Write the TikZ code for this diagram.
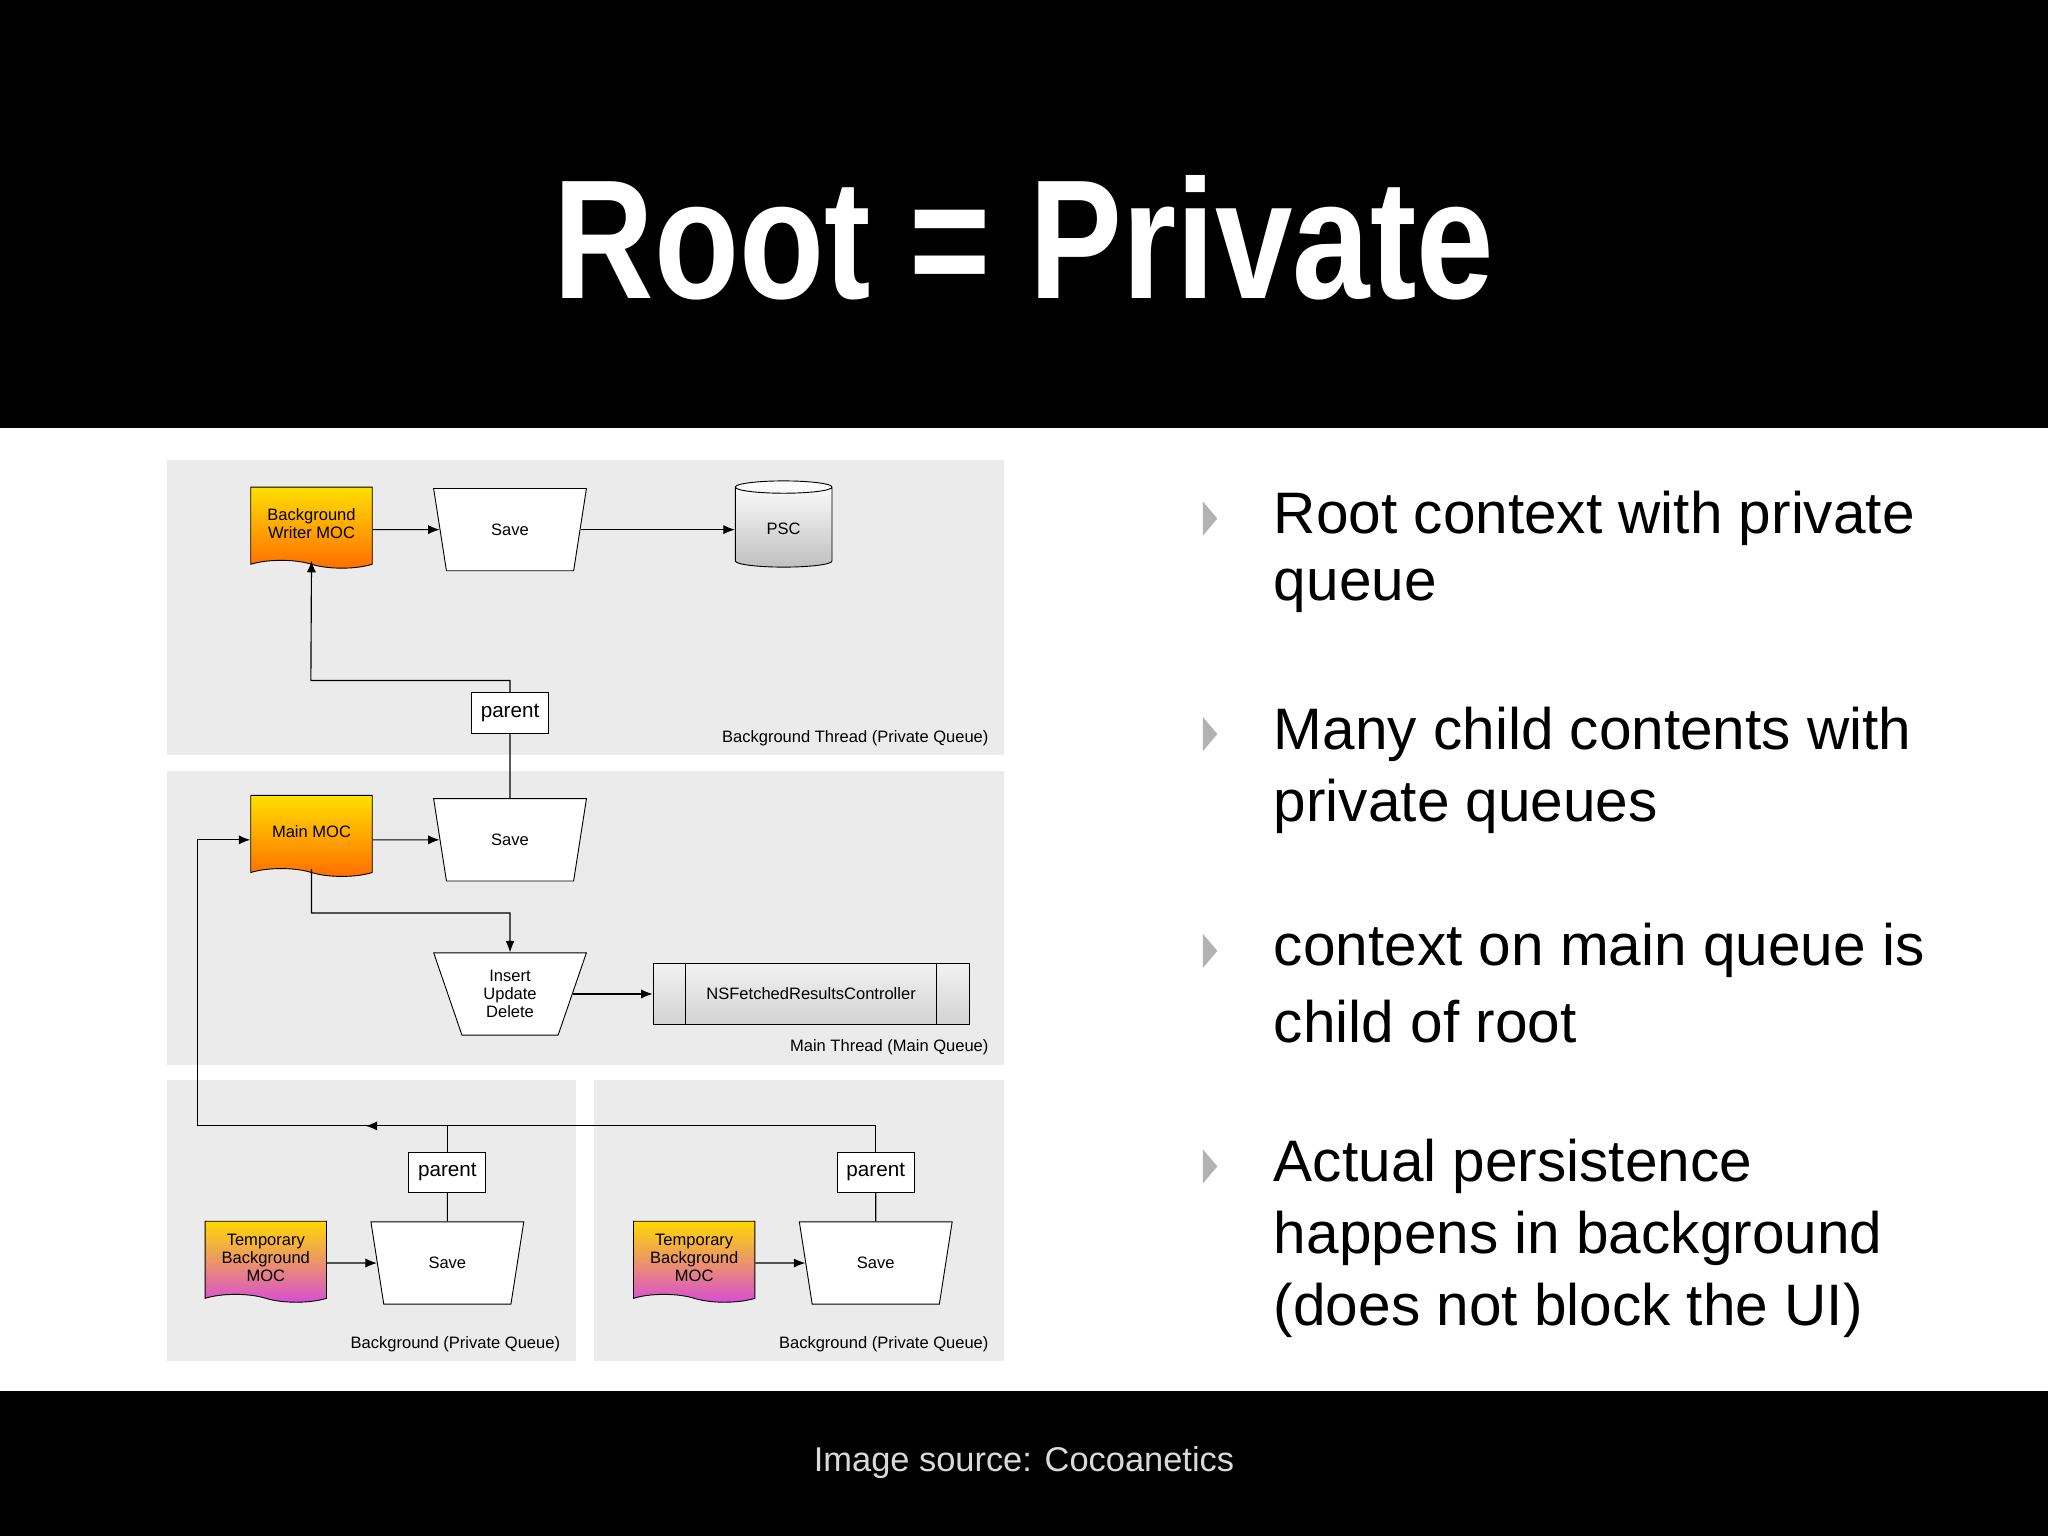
\documentclass[tikz,border=0pt]{standalone}
\usepackage{fontspec}
\setmainfont{Liberation Sans}
\usetikzlibrary{shapes.geometric,shapes.symbols,arrows.meta}
\def\upx{0.02cm}
\definecolor{panel}{HTML}{EBEBEB}
\begin{document}
\begin{tikzpicture}[x=0.02cm,y=-0.02cm,
  sm/.style={font=\fontsize{7.2}{8}\selectfont},
  doc/.style={tape,tape bend top=none,tape bend bottom=out and in,tape bend height=6*\upx,draw=black,line width=0.4pt,minimum width=93*\upx,minimum height=62*\upx,align=center,sm,inner sep=1pt},
  orange/.style={doc,top color=yellow!75!orange,bottom color=orange!85!red},
  purple/.style={doc,top color=yellow!70!orange,bottom color=magenta!55!violet!70},
  trap/.style={trapezium,shape border rotate=180,trapezium angle=72,trapezium stretches=true,draw=black,fill=white,minimum width=117*\upx,minimum height=63*\upx,sm,align=center,inner sep=0pt},
  pbox/.style={draw=black,fill=white,minimum width=59*\upx,minimum height=31*\upx,inner sep=1pt,font=\fontsize{9}{10}\selectfont},
  arr/.style={-{Latex[length=5pt,width=4pt]},line width=0.5pt},
  ln/.style={line width=0.5pt},
  plab/.style={sm,anchor=south east},
  bul/.style={anchor=west,font=\fontsize{25.5}{30}\selectfont,inner sep=0pt}]
\useasboundingbox (0,0) rectangle (1568,1176);
\fill[black] (0,0) rectangle (1568,328);
\fill[white] (0,328) rectangle (1568,1065);
\fill[black] (0,1065) rectangle (1568,1176);
\node[text=white,font=\fontsize{74}{80}\selectfont\bfseries,xscale=0.82] (title) at (784,182) {Root = Private};
\node[text=white!85!black,font=\fontsize{15}{18}\selectfont] (src) at (784,1120) {Image source: Cocoanetics};
% panels
\fill[panel] (128,352) rectangle (769,578);
\fill[panel] (128,590) rectangle (769,815);
\fill[panel] (128,827) rectangle (441,1042);
\fill[panel] (455,827) rectangle (769,1042);
\node[plab] (l1) at (763,577) {Background Thread (Private Queue)};
\node[plab] (l2) at (763,814) {Main Thread (Main Queue)};
\node[plab] (l3) at (435,1041) {Background (Private Queue)};
\node[plab] (l4) at (763,1041) {Background (Private Queue)};
% nodes
\node[orange] (bw) at (238.5,401) {Background\\Writer MOC};
\node[trap] (s1) at (390.5,405.5) {Save};
\node[cylinder,shape border rotate=90,aspect=0.25,draw=black,top color=white,bottom color=gray!50,minimum width=74*\upx,minimum height=66*\upx,sm] (psc) at (600,405) {PSC};
\node[pbox] (p1) at (390.5,546) {parent};
\node[orange] (mm) at (238.5,637) {Main MOC};
\node[trap] (s2) at (390.5,643) {Save};
\node[trap] (iud) at (390.5,761) {Insert\\Update\\Delete};
\node[draw=black,top color=white!90!gray,bottom color=gray!35,minimum width=242*\upx,minimum height=47*\upx,sm] (nsf) at (621,761) {NSFetchedResultsController};
\draw (525,737.5) -- (525,784.5) (717,737.5) -- (717,784.5);
\node[pbox] (p2) at (342.5,897.5) {parent};
\node[purple] (t1) at (203.5,963) {Temporary\\Background\\MOC};
\node[trap] (s3) at (342.5,967) {Save};
\node[pbox] (p3) at (670.5,897.5) {parent};
\node[purple] (t2) at (531.5,963) {Temporary\\Background\\MOC};
\node[trap] (s4) at (670.5,967) {Save};
% connectors
\draw[arr] (bw.east |- s1) -- (s1);
\draw[arr] (s1.east) -- (psc.west |- s1.east);
\draw[ln] (s2.north) -- (p1.south);
\draw[arr] (p1.north) |- (238,521) -- (bw.south);
\draw[arr] (mm.east |- s2) -- (s2);
\draw[arr] (mm.south) |- (390.5,699) -- (iud.north);
\draw[arr] (iud.east) -- (nsf.west |- iud.east);
\draw[arr] (t1.east |- s3) -- (s3);
\draw[arr] (t2.east |- s4) -- (s4);
\draw[ln] (s3.north) -- (p2.south);
\draw[ln] (s4.north) -- (p3.south);
\draw[ln] (p2.north) -- (p2.north |- 0,862);
\draw[arr] (p3.north) |- (151,862) |- (mm.west |- s2);
\draw[arr] (320,862) -- (280,862);
% bullets
\foreach \y in {397,562,728,893} \fill[gray!60] (921,\y-13) -- (932,\y) -- (921,\y+13) -- cycle;
\node[bul] (b1a) at (975,397) {Root context with private};
\node[bul] (b1b) at (975,452) {queue};
\node[bul] (b2a) at (975,562) {Many child contents with};
\node[bul] (b2b) at (975,617) {private queues};
\node[bul] (b3a) at (975,728) {context on main queue is};
\node[bul] (b3b) at (975,782) {child of root};
\node[bul] (b4a) at (975,893) {Actual persistence};
\node[bul] (b4b) at (975,948) {happens in background};
\node[bul] (b4c) at (975,1003) {(does not block the UI)};
\end{tikzpicture}
\end{document}
